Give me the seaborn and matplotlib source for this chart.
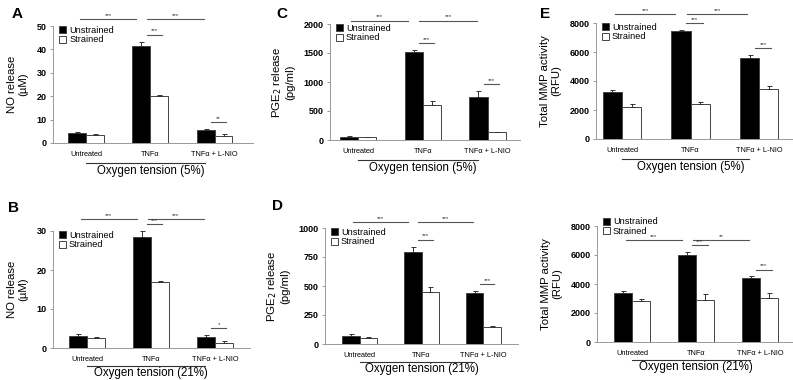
import numpy as np
import pandas as pd
import matplotlib
matplotlib.use('Agg')
import matplotlib.pyplot as plt
import matplotlib.transforms as mtransforms
import seaborn as sns

# data (mean, one-sided error)
treatments = ['Untreated', 'TNF\u03b1', 'TNF\u03b1 + L-NIO']
strains = ['Unstrained', 'Strained']

no_5_unstr = [4.2, 41.5, 5.6]
no_5_str = [3.5, 20.2, 3.0]
no_5_unstr_err = [0.3, 1.8, 0.4]
no_5_str_err = [0.3, 0.5, 0.8]

no_21_unstr = [3.2, 28.5, 2.9]
no_21_str = [2.5, 16.9, 1.4]
no_21_unstr_err = [0.3, 1.5, 0.4]
no_21_str_err = [0.2, 0.4, 0.3]

pge_5_unstr = [55, 1510, 740]
pge_5_str = [45, 600, 130]
pge_5_unstr_err = [8, 40, 110]
pge_5_str_err = [8, 75, 10]

pge_21_unstr = [70, 795, 440]
pge_21_str = [55, 450, 145]
pge_21_unstr_err = [12, 45, 18]
pge_21_str_err = [6, 40, 8]

mmp_5_unstr = [3250, 7450, 5600]
mmp_5_str = [2200, 2400, 3450]
mmp_5_unstr_err = [100, 60, 180]
mmp_5_str_err = [200, 150, 200]

mmp_21_unstr = [3400, 6000, 4400]
mmp_21_str = [2850, 2900, 3050]
mmp_21_unstr_err = [150, 200, 120]
mmp_21_str_err = [150, 400, 300]

plt.rcParams['font.family'] = ['Liberation Sans', 'DejaVu Sans']

fig = plt.figure(figsize=(7.93, 3.80), dpi=100)
W, H = 793, 380


def px_axes(left, right, top, bottom):
    return fig.add_axes([left / W, 1 - bottom / H, (right - left) / W, (bottom - top) / H])


panels = [
    dict(letter='A', box=(53, 253, 26, 143), ylabel='NO release\n(\u00b5M)',
         ticks=[0, 10, 20, 30, 40, 50], u=no_5_unstr, s=no_5_str, ue=no_5_unstr_err, se=no_5_str_err,
         xlim=(-0.52, 2.6), topy=1.06, tops=['***', '***'], inner=['***', '**'], o2='5%',
         letpos=(12, 14), row=0, legy=1.0),
    dict(letter='B', box=(53, 250, 231, 348), ylabel='NO release\n(\u00b5M)',
         ticks=[0, 10, 20, 30], u=no_21_unstr, s=no_21_str, ue=no_21_unstr_err, se=no_21_str_err,
         xlim=(-0.53, 2.55), topy=1.10, tops=['***', '***'], inner=['***', '*'], o2='21%',
         letpos=(8, 208), row=1, legy=1.0),
    dict(letter='C', box=(330, 520, 24, 140), ylabel='PGE$_2$ release\n(pg/ml)',
         ticks=[0, 500, 1000, 1500, 2000], u=pge_5_unstr, s=pge_5_str, ue=pge_5_unstr_err, se=pge_5_str_err,
         xlim=(-0.43, 2.5), topy=1.03, tops=['***', '***'], inner=['***', '***'], o2='5%',
         letpos=(276, 14), row=0, legy=1.0),
    dict(letter='D', box=(325, 518, 228, 344), ylabel='PGE$_2$ release\n(pg/ml)',
         ticks=[0, 250, 500, 750, 1000], u=pge_21_unstr, s=pge_21_str, ue=pge_21_unstr_err, se=pge_21_str_err,
         xlim=(-0.56, 2.56), topy=1.05, tops=['***', '***'], inner=['***', '***'], o2='21%',
         letpos=(272, 206), row=1, legy=1.0),
    dict(letter='E', box=(596, 792, 23, 139), ylabel='Total MMP activity\n(RFU)',
         ticks=[0, 2000, 4000, 6000, 8000], u=mmp_5_unstr, s=mmp_5_str, ue=mmp_5_unstr_err, se=mmp_5_str_err,
         xlim=(-0.38, 2.48), topy=1.08, tops=['***', '***'], inner=['***', '***'], o2='5%',
         letpos=(540, 14), row=0, legy=1.0),
    dict(letter='', box=(597, 792, 226, 342), ylabel='Total MMP activity\n(RFU)',
         ticks=[0, 2000, 4000, 6000, 8000], u=mmp_21_unstr, s=mmp_21_str, ue=mmp_21_unstr_err, se=mmp_21_str_err,
         xlim=(-0.55, 2.5), topy=0.88, tops=['***', '**'], inner=['***', '***'], o2='21%',
         letpos=(540, 208), row=1, legy=1.075),
]

line_col = '#555555'
top_spans = [(-0.1, 0.78), (0.95, 1.83)]
o2_line_y = [-0.17, -0.155]
o2_text_y = [-0.24, -0.215]

for p in panels:
    ax = px_axes(*p['box'])
    df = pd.DataFrame({
        'treatment': treatments * 2,
        'strain': [strains[0]] * 3 + [strains[1]] * 3,
        'value': p['u'] + p['s'],
    })
    sns.barplot(data=df, x='treatment', y='value', hue='strain', order=treatments, hue_order=strains,
                palette={'Unstrained': 'black', 'Strained': 'white'}, edgecolor='#444444',
                linewidth=0.7, width=0.56, errorbar=None, ax=ax)

    # one-sided error bars on the drawn bars
    tops = np.zeros(3)
    for cont, errs in zip(ax.containers, [p['ue'], p['se']]):
        for i, (bar, e) in enumerate(zip(cont, errs)):
            xc = bar.get_x() + bar.get_width() / 2
            h = bar.get_height()
            ax.errorbar(xc, h, yerr=[[0], [e]], fmt='none', ecolor='#333333',
                        elinewidth=0.7, capsize=1.8, capthick=0.7)
            tops[i] = max(tops[i], h + e)

    ymax = p['ticks'][-1]
    ax.set_ylim(0, ymax)
    ax.set_xlim(*p['xlim'])
    ax.set_yticks(p['ticks'])
    ax.set_yticklabels([str(t) for t in p['ticks']], fontweight='bold', fontsize=6.5)
    ax.tick_params(axis='y', length=2.5, width=0.6, color='#888888', pad=2)
    ax.tick_params(axis='x', length=0, pad=5.5, labelsize=5.3)
    ax.set_xlabel('')
    ax.set_ylabel(p['ylabel'], fontsize=8.2, labelpad=6, linespacing=1.15)
    for side in ['top', 'right']:
        ax.spines[side].set_visible(False)
    for side in ['left', 'bottom']:
        ax.spines[side].set_color('#999999')
        ax.spines[side].set_linewidth(0.7)

    ax.legend(frameon=False, loc='upper left', bbox_to_anchor=(0.03, p['legy']), fontsize=6.6,
              handlelength=0.8, handleheight=0.8, handletextpad=0.3, labelspacing=0.05,
              borderaxespad=0, borderpad=0)

    blend = mtransforms.blended_transform_factory(ax.transData, ax.transAxes)

    # brackets above the groups
    for (x0, x1), txt in zip(top_spans, p['tops']):
        ax.plot([x0, x1], [p['topy'], p['topy']], color=line_col, lw=0.8, transform=blend, clip_on=False)
        ax.text((x0 + x1) / 2, p['topy'] + 0.01, txt, transform=blend, ha='center', va='bottom',
                fontsize=4.5, color='#333333')

    # brackets between strained / unstrained bars
    for gi, txt in zip([1, 2], p['inner']):
        yb = tops[gi] + 0.06 * ymax
        ax.plot([gi - 0.06, gi + 0.18], [yb, yb], color=line_col, lw=0.8, clip_on=False)
        ax.text(gi + 0.06, yb + 0.01 * ymax, txt, ha='center', va='bottom', fontsize=4.5, color='#333333')

    # oxygen tension line and label
    r = p['row']
    ax.plot([0.0, 1.85], [o2_line_y[r], o2_line_y[r]], color='#333333', lw=0.8,
            transform=blend, clip_on=False)
    ax.text(1.0, o2_text_y[r], 'Oxygen tension (' + p['o2'] + ')', transform=blend, ha='center',
            va='center', fontsize=8.3)

    if p['letter']:
        fig.text(p['letpos'][0] / W, 1 - p['letpos'][1] / H, p['letter'], fontsize=11,
                 fontweight='bold', ha='left', va='center')

fig.savefig('out.png', dpi=100)
